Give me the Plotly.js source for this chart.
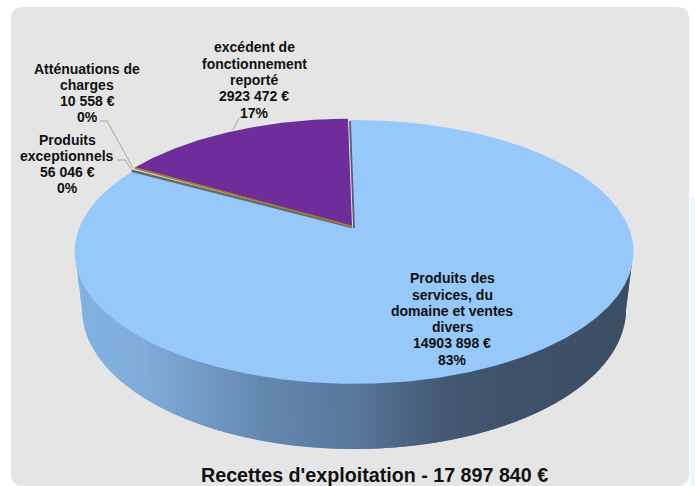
<!DOCTYPE html>
<html><head><meta charset="utf-8">
<script src="https://cdn.plot.ly/plotly-3.0.1.min.js"></script>
<style>html,body{margin:0;padding:0;background:#fff}#c{width:695px;height:486px}</style></head>
<body><div id="c"></div>
<script>
const categories = ["Produits des services, du domaine et ventes divers","Produits exceptionnels","Atténuations de charges","excédent de fonctionnement reporté"];
const values = [14903898, 56046, 10558, 2923472];
const sliceColors = ["#97C8FA","#5E6B75","#A8851C","#6F2C9B"];
const labelLines = [
 ["Produits des","services, du","domaine et ventes","divers","14903 898 €","83%"],
 ["Produits","exceptionnels","56 046 €","0%"],
 ["Atténuations de","charges","10 558 €","0%"],
 ["excédent de","fonctionnement","reporté","2923 472 €","17%"]];
const labelX = [452, 67, 87, 254];
const labelY = [319, 164, 93, 80];
const chartTitle = "Recettes d'exploitation - 17 897 840 €";
const leaderA = {x:[100,107,133], y:[121,121,168]};
const leaderB = {x:[117,125,131], y:[160,160,169]};
const leaderC = {x:[239,233], y:[118,130]};

// projected pie geometry
const AX=354, AY=227, RA=274.5, RB=127.2, K=0.189, START=-1.0;
const P=(deg,r=1)=>{const t=deg*Math.PI/180,u=r*Math.sin(t),v=r*Math.cos(t),w=1+K*v;return [AX+RA*u/w,AY-RB*v/w];};
const total=values.reduce((a,b)=>a+b,0);
const traces=[];
const poly=(xs,ys,c)=>traces.push({type:'scatter',mode:'lines',x:xs,y:ys,fill:'toself',fillcolor:c,line:{width:0},hoverinfo:'skip',showlegend:false});
const stops=[[76,[130,178,226]],[143,[128,172,218]],[260,[100,136,176]],[350,[88,120,156]],[440,[68,90,116]],[500,[62,82,106]],[632,[60,78,100]]];
const col=x=>{for(let i=1;i<stops.length;i++){if(x<=stops[i][0]){const a=stops[i-1],b=stops[i],f=(x-a[0])/(b[0]-a[0]);return 'rgb('+a[1].map((v,j)=>Math.round(v+(b[1][j]-v)*f)).join(',')+')';}}return 'rgb(60,78,100)';};
// wall lower outline
const CX=354,TOPY=252,BA=272,BB=140,BY=309,TA=278;
const yb=x=>{const d=Math.abs(x-CX);
  if(d<=BA) return BY+BB*Math.sqrt(Math.max(0,1-(d/BA)**2));
  return BY-(d-BA)/(TA-BA)*(BY-262);};
const S=2;
for(let x=CX-TA;x<CX+TA;x+=S){
  const x2=Math.min(x+S+1.5,CX+TA);
  const xs=[x],ys=[TOPY];
  for(let i=0;i<=8;i++){const q=x+(x2-x)*i/8;xs.push(q);ys.push(yb(q));}
  xs.push(x2);ys.push(TOPY);xs.push(x);ys.push(TOPY);
  poly(xs,ys,col(x));
}
const sweep=values.map(v=>v/total*360);
const sector=(a0,a1,dx,dy,c)=>{const xs=[AX+dx],ys=[AY+dy];const n=Math.max(2,Math.ceil((a1-a0)*2));
  for(let i=0;i<=n;i++){const p=P(a0+(a1-a0)*i/n);xs.push(p[0]+dx);ys.push(p[1]+dy);}
  xs.push(AX+dx);ys.push(AY+dy);poly(xs,ys,c);};
let a=START;const bounds=[];values.forEach((v,i)=>{bounds.push([a,a+sweep[i]]);a+=sweep[i];});
sector(bounds[0][0],bounds[0][1],0,0,sliceColors[0]);
// inner wall slivers
const edge=(deg,dx,dy,c,w)=>{const p=P(deg);traces.push({type:'scatter',mode:'lines',x:[AX+dx,p[0]+dx],y:[AY+dy,p[1]+dy],line:{color:c,width:w},hoverinfo:'skip',showlegend:false});};
edge(bounds[0][0],0,1,'#4F6072',1.8);
edge(bounds[0][1],-2,0,sliceColors[1],2.4);
edge(bounds[2][0],-2,-1,sliceColors[2],2);
sector(bounds[3][0],bounds[3][1],-2,-1.4,sliceColors[3]);
[leaderA,leaderB,leaderC].forEach(l=>traces.push({type:'scatter',mode:'lines',x:l.x,y:l.y,line:{color:'#A6A6A6',width:1},hoverinfo:'skip',showlegend:false}));

const LH=16.3, FONT='"Liberation Sans",Arial,sans-serif';
const annotations=[];
categories.forEach((c,i)=>labelLines[i].forEach((t,j)=>annotations.push({x:labelX[i],y:labelY[i]+(j-(labelLines[i].length-1)/2)*LH,xref:'x',yref:'y',text:'<b>'+t+'</b>',showarrow:false,xanchor:'center',yanchor:'middle',font:{family:FONT,size:14,color:'#111'}})));
annotations.push({x:374,y:475,xref:'x',yref:'y',text:'<b>'+chartTitle+'</b>',showarrow:false,xanchor:'center',yanchor:'middle',font:{family:FONT,size:19.7,color:'#111'}});
const layout={width:695,height:486,margin:{l:0,r:0,t:0,b:0},paper_bgcolor:'#fff',plot_bgcolor:'rgba(0,0,0,0)',showlegend:false,
 xaxis:{range:[0,695],visible:false,fixedrange:true},yaxis:{range:[486,0],visible:false,fixedrange:true},
 annotations,
 shapes:[
  {type:'rect',layer:'below',xref:'x',yref:'y',x0:690,x1:695,y0:197,y1:486,fillcolor:'#EEF7FC',line:{width:0}},
  {type:'path',layer:'below',xref:'x',yref:'y',path:'M 23 7 L 677 7 Q 689 7 689 19 L 689 474 Q 689 486 677 486 L 23 486 Q 11 486 11 474 L 11 19 Q 11 7 23 7 Z',fillcolor:'#E5E5E5',line:{width:0}}
 ]};
Plotly.newPlot('c',traces,layout,{displayModeBar:false,staticPlot:true});
</script></body></html>
